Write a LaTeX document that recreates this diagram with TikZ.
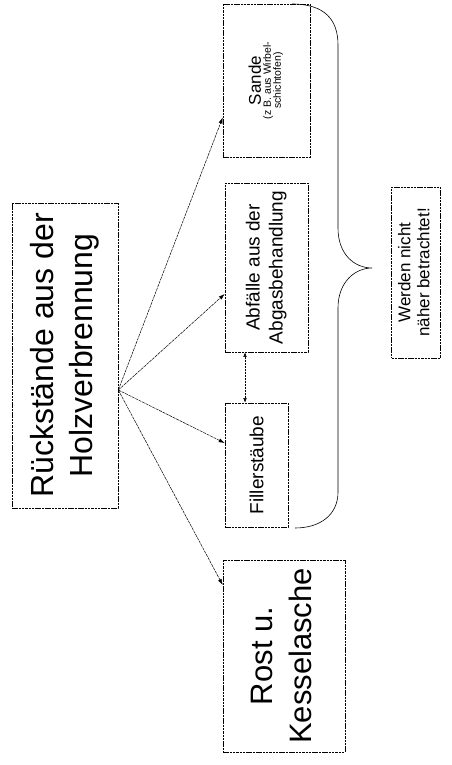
\documentclass[tikz,border=0pt]{standalone}
\usepackage{fontspec}
\setmainfont{Liberation Sans}
\usetikzlibrary{arrows.meta,calc}
\begin{document}
\begin{tikzpicture}[x=1pt,y=-1pt,
  box/.style={draw, line width=0.6pt, dash pattern=on 2.5pt off 0.8pt, inner sep=0pt},
  conn/.style={line width=0.5pt, dash pattern=on 3pt off 0.8pt, -{Latex[length=6pt,width=4pt]}},
  dconn/.style={line width=0.5pt, dash pattern=on 2pt off 1pt, {Latex[length=4.5pt,width=3.5pt]}-{Latex[length=4.5pt,width=3.5pt]}},
  brace/.style={line width=0.6pt}
  ]
\useasboundingbox (0,0) rectangle (451,765);
% boxes
\node[box, minimum width=106pt, minimum height=305pt] (main) at (65,355.5)
  {\rotatebox{90}{\fontsize{32}{40}\selectfont\begin{tabular}{@{}c@{}}Rückstände aus der\\Holzverbrennung\end{tabular}}};
\node[box, minimum width=87pt, minimum height=153pt] (sande) at (266.5,80.5)
  {\rotatebox{90}{\begin{tabular}{@{}c@{}}\fontsize{17}{18}\selectfont Sande\\[-2pt]\fontsize{10.5}{10.5}\selectfont (z B. aus Wirbel-\\[-2pt]\fontsize{10.5}{10.5}\selectfont schichtofen)\end{tabular}}};
\node[box, minimum width=83pt, minimum height=169pt] (abf) at (266.5,267.5)
  {\rotatebox{90}{\fontsize{19}{23}\selectfont\begin{tabular}{@{}c@{}}Abfälle aus der\\Abgasbehandlung\end{tabular}}};
\node[box, minimum width=63pt, minimum height=124pt] (filler) at (256.5,465)
  {\rotatebox{90}{\fontsize{19}{23}\selectfont Fillerstäube}};
\node[box, minimum width=122pt, minimum height=192pt] (rost) at (284,656)
  {\rotatebox{90}{\fontsize{31}{39}\selectfont\begin{tabular}{@{}c@{}}Rost u.\\Kesselasche\end{tabular}}};
\node[box, minimum width=49pt, minimum height=171pt] (werden) at (416,272.5)
  {\rotatebox{90}{\fontsize{17}{19}\selectfont\begin{tabular}{@{}c@{}}Werden nicht\\näher betrachtet!\end{tabular}}};
% connectors
\coordinate (src) at ([yshift=-34.5pt]main.east);
\draw[conn] (src) -- ([yshift=-37pt]sande.west);
\draw[conn] (src) -- ([yshift=-26.5pt]abf.west);
\draw[conn] (src) -- ([yshift=22pt]filler.west);
\draw[conn] (src) -- ([yshift=71pt]rost.west);
\coordinate (ftop) at ([xshift=-11.5pt]filler.north);
\draw[dconn] (ftop) -- (ftop |- abf.south);
% brace
\draw[brace] (292,4) .. controls (325,4) and (338,20) .. (338,45) -- (338,228)
  .. controls (338,255) and (355,268) .. (372,268)
  .. controls (355,268) and (338,282) .. (338,308) -- (338,492)
  .. controls (338,515) and (320,528) .. (295,528);
\end{tikzpicture}
\end{document}
